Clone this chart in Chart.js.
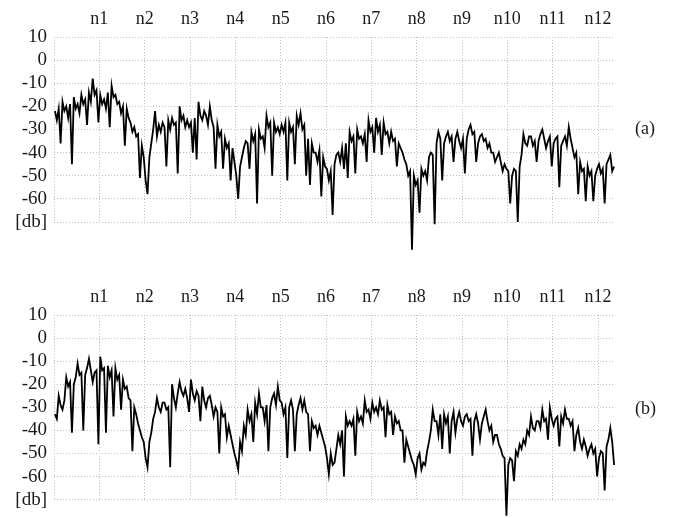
<!DOCTYPE html>
<html>
<head>
<meta charset="utf-8">
<script src="https://cdn.jsdelivr.net/npm/chart.js@4.4.1/dist/chart.umd.min.js"></script>
<style>
  html, body { margin: 0; padding: 0; background: #fff; }
  body { width: 674px; height: 518px; position: relative; overflow: hidden; }
  .panel { position: absolute; left: 0; width: 674px; }
  .tag { position: absolute; left: 635px; font: 18px "Liberation Serif", serif; color: #1a1a1a; line-height: 20px; }
</style>
</head>
<body>
<div class="panel" style="top:0;height:278px"><canvas id="chartA"></canvas></div>
<div class="panel" style="top:278px;height:240px"><canvas id="chartB"></canvas></div>
<div class="tag" style="top:118px">(a)</div>
<div class="tag" style="top:398px">(b)</div>
<script>
// two stacked spectra, x in units of n (n1..n12), y in dB
const N_LABELS = ["n1", "n2", "n3", "n4", "n5", "n6", "n7", "n8", "n9", "n10", "n11", "n12"];
const Y_TICKS = [10, 0, -10, -20, -30, -40, -50, -60, -70];
const Y_BOTTOM_LABEL = "[db]";
const X_MAX = 12.33;
const SAMPLES_PER_N = 24;

// panel (a), 24 samples per n-step (one row per step)
const dbA = [
  -22, -26, -21, -36, -18, -22, -20, -25, -19, -45, -16, -21, -19, -23, -15, -19, -17, -28, -14, -18, -8, -15, -13, -27,
  -15, -19, -17, -21, -14, -29, -11, -16, -15, -19, -18, -23, -20, -37, -21, -25, -27, -31, -29, -33, -32, -51, -37, -42,
  -52, -58, -42, -36, -30, -22, -33, -28, -31, -27, -29, -46, -26, -30, -25, -28, -27, -49, -20, -26, -24, -29, -26, -29,
  -27, -40, -25, -43, -18, -24, -26, -22, -24, -28, -20, -26, -29, -47, -28, -33, -31, -47, -34, -38, -36, -52, -38, -44,
  -50, -60, -46, -42, -38, -35, -36, -47, -31, -35, -32, -62, -30, -34, -33, -38, -24, -29, -27, -50, -27, -31, -29, -32,
  -28, -31, -27, -52, -27, -31, -29, -45, -24, -28, -23, -30, -28, -50, -34, -54, -36, -40, -40, -44, -39, -59, -42, -46,
  -47, -52, -48, -67, -45, -41, -40, -44, -38, -47, -36, -51, -31, -35, -33, -49, -30, -34, -33, -36, -32, -44, -26, -31,
  -29, -40, -25, -31, -28, -41, -27, -32, -31, -36, -31, -35, -34, -46, -36, -38, -40, -43, -45, -50, -48, -82, -50, -54,
  -52, -66, -47, -50, -48, -52, -42, -40, -41, -71, -36, -31, -34, -52, -36, -33, -31, -35, -33, -44, -34, -31, -35, -38,
  -34, -49, -34, -30, -28, -32, -31, -44, -36, -33, -32, -35, -34, -38, -36, -40, -40, -44, -42, -40, -44, -48, -45, -47,
  -48, -62, -50, -47, -48, -70, -46, -41, -32, -36, -37, -33, -33, -37, -35, -44, -35, -32, -30, -34, -38, -35, -33, -46,
  -36, -34, -33, -55, -37, -35, -33, -37, -29, -34, -38, -42, -40, -58, -44, -48, -47, -61, -46, -50, -48, -61, -50, -47,
  -45, -49, -47, -62, -45, -43, -41, -48, -46,
];

// panel (b)
const dbB = [
  -33, -35, -25, -29, -31, -27, -17, -21, -19, -41, -20, -17, -11, -16, -15, -40, -16, -13, -9, -14, -19, -15, -14, -46,
  -8, -14, -13, -41, -12, -17, -14, -34, -13, -18, -16, -31, -18, -22, -21, -26, -27, -49, -30, -33, -37, -40, -43, -45,
  -52, -56, -45, -41, -35, -32, -26, -30, -32, -28, -28, -31, -30, -56, -20, -26, -30, -24, -19, -23, -25, -22, -26, -32,
  -18, -24, -27, -23, -25, -36, -21, -27, -30, -26, -25, -29, -34, -30, -32, -50, -30, -34, -33, -43, -38, -42, -46, -50,
  -53, -57, -45, -49, -38, -42, -31, -36, -33, -45, -28, -33, -24, -30, -30, -36, -29, -49, -30, -26, -24, -29, -21, -27,
  -28, -33, -30, -52, -30, -27, -31, -49, -33, -29, -26, -31, -27, -32, -33, -49, -36, -39, -38, -42, -38, -41, -44, -47,
  -52, -59, -50, -55, -54, -48, -42, -46, -40, -60, -34, -38, -36, -38, -35, -51, -32, -36, -34, -37, -27, -32, -31, -35,
  -28, -32, -30, -33, -27, -31, -30, -43, -29, -33, -32, -42, -34, -37, -36, -40, -40, -54, -44, -47, -50, -53, -55, -59,
  -52, -50, -57, -54, -55, -49, -45, -40, -31, -36, -36, -42, -33, -48, -33, -37, -34, -50, -36, -32, -41, -35, -32, -36,
  -38, -34, -33, -36, -35, -51, -36, -33, -37, -44, -37, -34, -31, -36, -40, -38, -45, -42, -42, -46, -48, -51, -52, -77,
  -55, -52, -53, -62, -49, -51, -46, -48, -44, -46, -40, -42, -34, -39, -40, -36, -36, -39, -31, -36, -35, -44, -30, -35,
  -38, -35, -34, -47, -34, -37, -31, -35, -35, -38, -36, -49, -42, -39, -45, -48, -44, -47, -51, -48, -46, -50, -48, -60,
  -52, -49, -50, -66, -47, -44, -39, -45, -55,
];

const X_FONT = { family: "'Liberation Serif', 'Times New Roman', serif", size: 18 };
const Y_FONT = { family: "'Liberation Serif', 'Times New Roman', serif", size: 19 };
const INK = "#1a1a1a", GRID = "#bdbdbd";

function makeChart(id, values, height) {
  const pts = values.map((v, i) => ({ x: (i + 0.5) / SAMPLES_PER_N, y: v }));
  return new Chart(document.getElementById(id), {
    type: "line",
    data: {
      datasets: [{
        data: pts, borderColor: "#000", borderWidth: 1.8,
        pointRadius: 0, tension: 0, clip: false,
      }],
    },
    options: {
      responsive: true, maintainAspectRatio: false, animation: false,
      layout: { padding: { left: 0, top: 0, right: 674 - 613, bottom: height - 222 } },
      plugins: { legend: { display: false }, tooltip: { enabled: false } },
      scales: {
        x: {
          type: "linear", position: "top", min: 0, max: X_MAX,
          afterBuildTicks: (s) => { s.ticks = [0, ...N_LABELS.map((_, i) => i + 1)].map((v) => ({ value: v })); },
          afterFit: (s) => { s.height = 37; },
          ticks: {
            autoSkip: false, maxRotation: 0, padding: 7, color: INK, font: X_FONT,
            callback: (v) => (v === 0 ? "" : N_LABELS[v - 1]),
          },
          grid: { color: GRID, lineWidth: 1, drawTicks: false },
          border: { display: false, dash: [1, 2] },
        },
        y: {
          min: -70, max: 10,
          afterBuildTicks: (s) => { s.ticks = Y_TICKS.map((v) => ({ value: v })); },
          afterFit: (s) => { s.width = 54; },
          ticks: {
            autoSkip: false, padding: 7, color: INK, font: Y_FONT,
            callback: (v) => (v === -70 ? Y_BOTTOM_LABEL : String(v)),
          },
          grid: { color: GRID, lineWidth: 1, drawTicks: false },
          border: { display: false, dash: [1, 2] },
        },
      },
    },
  });
}

makeChart("chartA", dbA, 278);
makeChart("chartB", dbB, 240);
</script>
</body>
</html>
